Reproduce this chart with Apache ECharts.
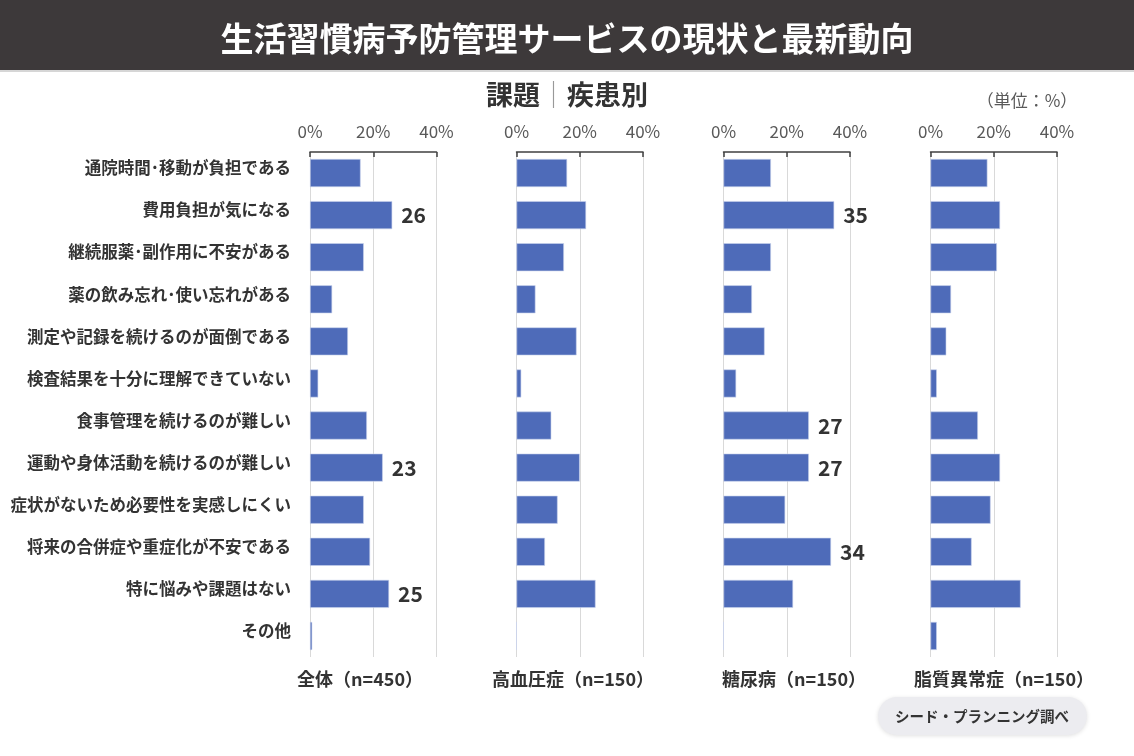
<!DOCTYPE html>
<html><head><meta charset="utf-8">
<script src="https://cdn.jsdelivr.net/npm/echarts@6/dist/echarts.min.js"></script>
<style>html,body{margin:0;padding:0;background:#fff;}#c{width:1134px;height:756px;}</style>
</head><body><div id="c"></div>
<script>
const categories = ['通院時間･移動が負担である','費用負担が気になる','継続服薬･副作用に不安がある','薬の飲み忘れ･使い忘れがある','測定や記録を続けるのが面倒である','検査結果を十分に理解できていない','食事管理を続けるのが難しい','運動や身体活動を続けるのが難しい','症状がないため必要性を実感しにくい','将来の合併症や重症化が不安である','特に悩みや課題はない','その他'];
const panelNames = ['全体（n=450）','高血圧症（n=150）','糖尿病（n=150）','脂質異常症（n=150）'];
const allValues = [16, 26, 17, 7, 12, 2.6, 18, 23, 17, 19, 25, 0.7];
const hypertension = [16, 22, 15, 6, 19, 1.5, 11, 20, 13, 9, 25, 0];
const diabetes = [15, 35, 15, 9, 13, 4, 27, 27, 19.5, 34, 22, 0];
const dyslipidemia = [18, 22, 21, 6.5, 5, 2, 15, 22, 19, 13, 28.5, 2];
const labeledIdx = [[1, 7, 10], [], [1, 6, 7, 9], []];
const xTicks = [0, 20, 40];

const seriesData = [allValues, hypertension, diabetes, dyslipidemia];
const gridLefts = [310, 516.5, 723.5, 930.5];
const gridW = 126.5;
const nameCenters = [360, 573, 794, 1004];
const FONT = '"Noto Sans CJK JP", "Noto Sans", sans-serif';

const chart = echarts.init(document.getElementById('c'), null, {renderer: 'canvas'});
const grids = [], xAxes = [], yAxes = [], series = [];
seriesData.forEach((vals, i) => {
  grids.push({left: gridLefts[i], width: gridW, top: 152, height: 505, containLabel: false});
  xAxes.push({
    type: 'value', gridIndex: i, position: 'top', min: xTicks[0], max: xTicks[xTicks.length - 1], interval: xTicks[1] - xTicks[0],
    axisLine: {show: true, lineStyle: {color: '#404040', width: 1.5}},
    axisTick: {show: true, inside: true, length: 5, lineStyle: {color: '#404040', width: 1.5}},
    axisLabel: {formatter: '{value}%', color: '#595959', fontSize: 17, margin: 12, fontFamily: FONT},
    splitLine: {show: true, lineStyle: {color: '#d9d9d9', width: 1}}
  });
  yAxes.push({
    type: 'category', gridIndex: i, data: categories, inverse: true,
    axisLine: {show: false}, axisTick: {show: false},
    axisLabel: {show: i === 0, margin: 19, formatter: v => '{a|' + v + '}',
      rich: {a: {color: '#333333', fontSize: 16.5, fontWeight: 'bold', fontFamily: FONT, padding: [0, 0, 10, 0]}}}
  });
  series.push({
    type: 'bar', xAxisIndex: i, yAxisIndex: i, barWidth: 28,
    data: vals.map((v, k) => ({
      value: v,
      label: {show: labeledIdx[i].includes(k), position: 'right', distance: 9,
        formatter: p => Math.round(p.value), color: '#333333', fontSize: 21, fontWeight: 'bold', fontFamily: FONT}
    })),
    itemStyle: {color: '#4e6bb9', borderColor: '#c9d3ec', borderWidth: 0.6},
    animation: false
  });
});

const graphic = [
  {type: 'rect', shape: {x: 0, y: 0, width: 1134, height: 70}, style: {fill: '#3d393a'}},
  {type: 'rect', shape: {x: 0, y: 70, width: 1134, height: 2}, style: {fill: '#d6d6d6'}},
  {type: 'text', x: 567, y: 38, style: {text: '生活習慣病予防管理サービスの現状と最新動向', fill: '#ffffff', font: 'bold 33px ' + FONT, textAlign: 'center', textVerticalAlign: 'middle'}},
  {type: 'text', x: 567, y: 95, style: {
    text: '{a|課題}{s|｜}{a|疾患別}',
    rich: {a: {fontSize: 27, fontWeight: 'bold', fill: '#333333', fontFamily: FONT}, s: {fontSize: 27, fill: '#999999', fontFamily: FONT}},
    textAlign: 'center', textVerticalAlign: 'middle'}},
  {type: 'text', x: 1027, y: 101, style: {text: '（単位：%）', fill: '#595959', font: '17px ' + FONT, textAlign: 'center', textVerticalAlign: 'middle'}},
  {type: 'rect', shape: {x: 878, y: 697, width: 209, height: 38, r: 19}, style: {fill: '#ececf0', shadowBlur: 4, shadowColor: 'rgba(0,0,0,0.12)', shadowOffsetY: 1}},
  {type: 'text', x: 982, y: 716, style: {text: 'シード・プランニング調べ', fill: '#333333', font: 'bold 14.5px ' + FONT, textAlign: 'center', textVerticalAlign: 'middle'}}
];
panelNames.forEach((n, i) => {
  graphic.push({type: 'text', x: nameCenters[i], y: 679, style: {text: n, fill: '#333333', font: 'bold 18px ' + FONT, textAlign: 'center', textVerticalAlign: 'middle'}});
});

chart.setOption({
  animation: false,
  backgroundColor: '#ffffff',
  textStyle: {fontFamily: FONT},
  grid: grids, xAxis: xAxes, yAxis: yAxes, series: series, graphic: graphic
});
</script></body></html>
